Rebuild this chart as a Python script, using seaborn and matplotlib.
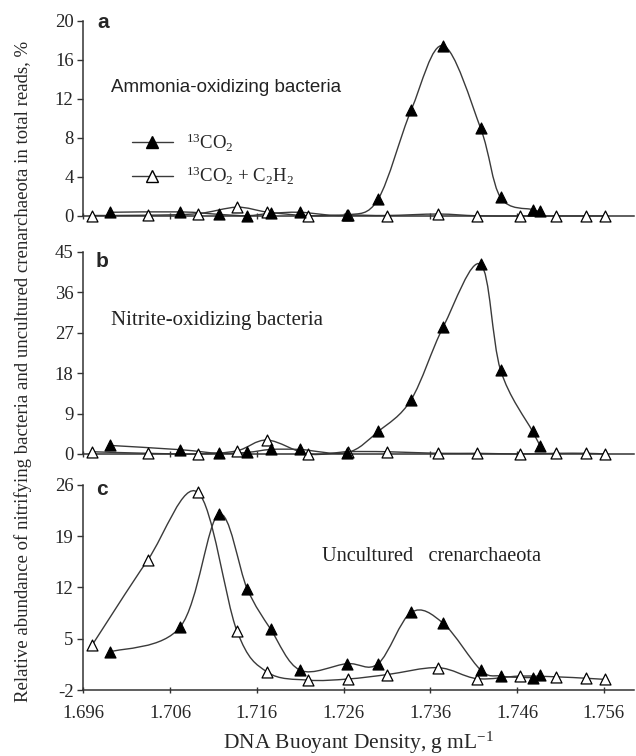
import numpy as np
import matplotlib
matplotlib.use("Agg")
import matplotlib.pyplot as plt
from matplotlib.path import Path
from matplotlib.patches import PathPatch
from matplotlib.lines import Line2D
import seaborn as sns

# ---------------- data ----------------
x_c13 = [1.6991, 1.7072, 1.7116, 1.7149, 1.7176, 1.7210, 1.7264,
         1.7300, 1.7338, 1.7375, 1.7418, 1.7441, 1.7478, 1.7487]
x_c2h2 = [1.6970, 1.7034, 1.7092, 1.7137, 1.7172, 1.7219, 1.7265,
          1.7310, 1.7369, 1.7414, 1.7463, 1.7505, 1.7540, 1.7561]

aob_c13 = [0.38, 0.42, 0.17, 0.03, 0.27, 0.38, 0.1,
           1.74, 10.85, 17.45, 9.0, 1.9, 0.65, 0.5]
aob_c2h2 = [0.05, 0.08, 0.24, 0.9, 0.4, 0.03, 0.1,
            0.05, 0.2, 0.02, 0.0, 0.0, 0.0, 0.0]

nob_c13 = [1.9, 0.95, 0.15, 0.35, 1.0, 1.0, 0.3,
           5.0, 12.1, 28.3, 42.2, 18.7, 5.0, 1.7]
nob_c2h2 = [0.5, 0.15, 0.0, 0.7, 3.1, 0.0, 0.5,
            0.5, 0.15, 0.15, 0.0, 0.15, 0.15, 0.0]

cren_c13 = [3.2, 6.65, 22.0, 11.8, 6.3, 0.7, 1.6,
            1.6, 8.6, 7.1, 0.75, -0.1, -0.3, 0.0]
cren_c2h2 = [4.1, 15.7, 25.0, 6.1, 0.45, -0.65, -0.5,
             0.1, 1.05, -0.45, -0.1, -0.2, -0.4, -0.55]

panel_letters = ["a", "b", "c"]
panel_titles = ["Ammonia-oxidizing bacteria", "Nitrite-oxidizing bacteria",
                "Uncultured   crenarchaeota"]
ylims = [(0, 20), (0, 45), (-2, 26)]
yticks = [[0, 4, 8, 12, 16, 20], [0, 9, 18, 27, 36, 45], [-2, 5, 12, 19, 26]]
xticks = [1.696, 1.706, 1.716, 1.726, 1.736, 1.746, 1.756]
xtick_labels = ["1.696", "1.706", "1.716", "1.726", "1.736", "1.746", "1.756"]
series_labels = [r"$^{13}$CO$_2$", r"$^{13}$CO$_2$ + C$_2$H$_2$"]

# ---------------- style ----------------
sns.set_theme(style="ticks")
plt.rcParams["font.family"] = ["Liberation Serif", "DejaVu Serif"]
plt.rcParams["mathtext.default"] = "regular"
plt.rcParams["axes.unicode_minus"] = False

LINE = "#3a3a3a"

fig = plt.figure(figsize=(6.36, 7.56), dpi=100)
rects = [
    [0.131, 0.7143, 0.866, 0.2583],
    [0.131, 0.3995, 0.866, 0.2676],
    [0.131, 0.0873, 0.866, 0.2712],
]
data = [(aob_c13, aob_c2h2), (nob_c13, nob_c2h2), (cren_c13, cren_c2h2)]
letter_pos = [(0.025, 0.963), (0.023, 0.926), (0.024, 0.951)]
title_pos = [(0.05, 13.2, "Liberation Sans", 13.5), (0.05, 29.7, "Liberation Serif", 15),
             (0.434, 16.3, "Liberation Serif", 14.6)]


def smooth_path(xs, ys):
    pts = np.column_stack([xs, ys])
    n = len(pts)
    verts = [pts[0]]
    codes = [Path.MOVETO]
    for i in range(n - 1):
        p0 = pts[i - 1] if i > 0 else pts[i]
        p1 = pts[i]
        p2 = pts[i + 1]
        p3 = pts[i + 2] if i + 2 < n else pts[i + 1]
        c1 = p1 + (p2 - p0) / 6.0
        c2 = p2 - (p3 - p1) / 6.0
        verts += [c1, c2, p2]
        codes += [Path.CURVE4] * 3
    return Path(verts, codes)


axes = []
for k in range(3):
    ax = fig.add_axes(rects[k])
    axes.append(ax)
    y13, y22 = data[k]
    for xs, ys in ((x_c2h2, y22), (x_c13, y13)):
        ax.add_patch(PathPatch(smooth_path(xs, ys), facecolor="none",
                               edgecolor=LINE, lw=1.0, zorder=2, clip_on=False))
    sns.scatterplot(x=x_c2h2, y=y22, marker="^", s=62, color="white",
                    edgecolor="black", linewidth=0.9, zorder=4, clip_on=False, ax=ax)
    sns.scatterplot(x=x_c13, y=y13, marker="^", s=62, color="black",
                    edgecolor="black", linewidth=0.9, zorder=5, clip_on=False, ax=ax)

    ax.set_xlim(1.696, 1.7595)
    ax.set_ylim(*ylims[k])
    ax.set_yticks(yticks[k])
    ax.set_xticks(xticks)
    ax.set_facecolor("white")
    for s in ("top", "right"):
        ax.spines[s].set_visible(False)
    for s in ("left", "bottom"):
        ax.spines[s].set_color("#333333")
        ax.spines[s].set_linewidth(1.1)
    ax.tick_params(axis="y", direction="out", length=4, width=1.0, pad=3,
                   labelsize=13.5, color="#333333")
    ax.tick_params(axis="x", direction="inout", length=5, width=1.0, pad=8,
                   labelsize=13.5, color="#333333")
    if k < 2:
        ax.set_xticklabels([])
    else:
        ax.set_xticklabels(xtick_labels)
    ax.set_xlabel("")
    ax.set_ylabel("")

    ax.text(letter_pos[k][0], letter_pos[k][1], panel_letters[k],
            transform=ax.transAxes, fontsize=15, fontweight="bold",
            family=["Liberation Sans", "DejaVu Sans"], va="baseline", ha="left")
    tx, ty, fam, fs = title_pos[k]
    ax.text(tx, ty, panel_titles[k], transform=ax.get_yaxis_transform(),
            fontsize=fs, family=[fam, "DejaVu Sans"], va="center", ha="left",
            color="#222222")

axes[2].set_xlabel("DNA Buoyant Density, g mL$^{-1}$", fontsize=15.5, labelpad=6)

handles = [
    Line2D([], [], color=LINE, lw=1.0, marker="^", markersize=8,
           markerfacecolor="black", markeredgecolor="black"),
    Line2D([], [], color=LINE, lw=1.0, marker="^", markersize=8,
           markerfacecolor="white", markeredgecolor="black"),
]
axes[0].legend(handles, series_labels, loc="center left",
               bbox_to_anchor=(0.088, 0.29), frameon=False, fontsize=13.5,
               handlelength=2.2, handletextpad=0.7, labelspacing=0.6,
               borderaxespad=0, borderpad=0)

fig.text(0.036, 0.509,
         "Relative abundance of nitrifying bacteria and uncultured crenarchaeota in total reads, %",
         rotation=90, va="center", ha="center", fontsize=13.5)

fig.savefig("out.png", dpi=100, facecolor="white")
